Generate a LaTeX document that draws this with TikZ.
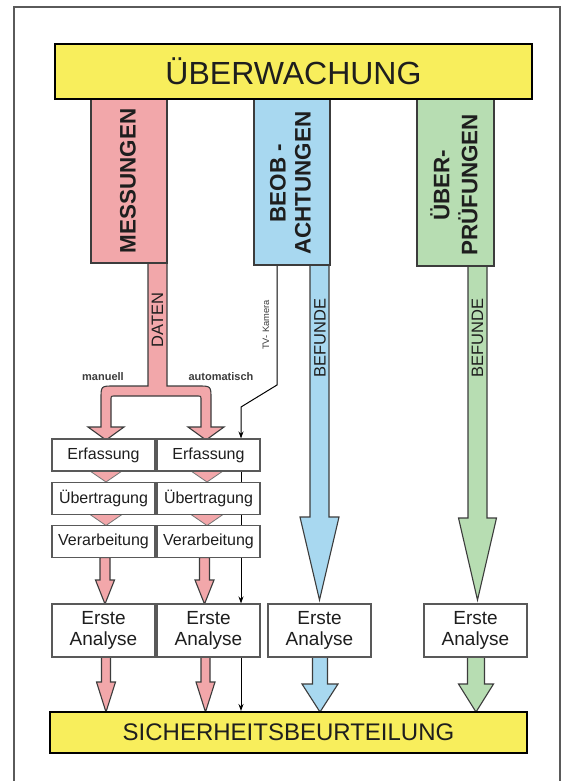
\documentclass[tikz,border=0pt]{standalone}
\usepackage{fontspec}
\setmainfont{Liberation Sans}
\usetikzlibrary{arrows.meta,calc}
\definecolor{pinkc}{RGB}{242,167,170}
\definecolor{bluec}{RGB}{168,216,240}
\definecolor{greenc}{RGB}{183,221,178}
\definecolor{yellowc}{RGB}{248,238,92}
\definecolor{edgec}{RGB}{60,60,60}
\definecolor{framec}{RGB}{90,90,90}
\definecolor{txtc}{RGB}{30,30,30}
\newcommand\BlkArrow[7]{%
  \filldraw[fill=#1, draw=edgec, line width=1.1pt, line join=miter]
  ({#2-#3},#5) -- ({#2-#3},#6) -- ({#2-#4},#6) -- (#2,#7) -- ({#2+#4},#6) -- ({#2+#3},#6) -- ({#2+#3},#5) -- cycle;}
\newcommand\Chevron[2]{%
  \filldraw[fill=pinkc, draw=edgec!70, line width=0.8pt] ({#1-16},#2) -- ({#1+16},#2) -- (#1,{#2+11}) -- cycle;}
\begin{document}
\begin{tikzpicture}[x=1pt,y=-1pt,
  ybar/.style={draw=black, line width=2pt, fill=yellowc, inner sep=0pt, text=txtc},
  colbox/.style={draw=edgec, line width=1.2pt, inner sep=0pt},
  coltext/.style={rotate=90, align=center, inner sep=0pt, text=txtc, font=\bfseries\fontsize{22.4}{25}\selectfont},
  stemtext/.style={rotate=90, inner sep=0pt, text=txtc, font=\fontsize{16.5}{18}\selectfont},
  procbox/.style={draw=edgec!85, line width=1.1pt, fill=white, inner sep=0pt, minimum width=103pt, minimum height=32pt, text=txtc, font=\fontsize{16}{18}\selectfont},
  anabox/.style={draw=edgec!85, line width=1.1pt, fill=white, inner sep=0pt, minimum width=103pt, minimum height=53pt, align=center, text=txtc, font=\fontsize{19}{21}\selectfont},
  smalllab/.style={inner sep=0pt, text=edgec, font=\bfseries\fontsize{11}{13}\selectfont},
  thinarr/.style={draw=black, line width=1pt, -{Stealth[length=7pt,width=5pt]}}
]
\useasboundingbox (0,0) rectangle (570,781);
\fill[white] (0,0) rectangle (570,781);
% frame
\draw[framec, line width=1.5pt] (14,781) -- (14,7) -- (560,7) -- (560,781);

% named helper coordinates
\coordinate (tvA) at (277,0);
\coordinate (tvB) at (241,0);

% process boxes are placed first as nodes (drawn later over lines) -> use positions
\path (103.5,455) node[procbox, draw=none, fill=none] (erfL) {}
      (208.5,455) node[procbox, draw=none, fill=none] (erfR) {}
      (208.5,630.5) node[anabox, draw=none, fill=none] (ersteB) {}
      (288.5,732.5) node[ybar, draw=none, fill=none, minimum width=477pt, minimum height=41pt] (barB) {};
\path (292,182) node[colbox, minimum width=76pt, minimum height=166pt] (beobP) {};

% thin TV-camera line
\draw[thinarr] (beobP.south -| tvA) -- (277,385) -- (241,407) -- (erfR.north -| tvB);
\draw[thinarr] (erfR.south -| tvB) -- (ersteB.north -| tvB);

% pink branching stem
\filldraw[fill=pinkc, draw=edgec, line width=1.1pt, line join=miter]
 (148,263) -- (148,386) -- (114,386) .. controls (101,386) .. (101,399) -- (101,427)
 -- (88,427) -- (106,440) -- (124,427) -- (111,427) -- (111,400) .. controls (111,396) .. (115,396)
 -- (197,396) .. controls (201,396) .. (201,400) -- (201,427) -- (188,427) -- (206,440) -- (224,427)
 -- (211,427) -- (211,399) .. controls (211,386) .. (198,386) -- (167,386) -- (167,263) -- cycle;

% blue and green big arrows
\BlkArrow{bluec}{319.5}{9.5}{19.5}{265}{517}{600}
\BlkArrow{greenc}{477.5}{9.5}{19}{266}{518}{600}

% chevrons between process boxes
\Chevron{106}{471}
\Chevron{207}{471}
\Chevron{106}{514.5}
\Chevron{207}{514.5}

% pink arrows to first analysis
\BlkArrow{pinkc}{105}{5}{9.5}{557.5}{580}{604}
\BlkArrow{pinkc}{204.5}{5}{9.5}{557.5}{580}{604}

% lower arrows to bar
\BlkArrow{pinkc}{106}{4.5}{9.5}{657}{682}{712}
\BlkArrow{pinkc}{205.5}{4.5}{9.5}{657}{682}{712}
\BlkArrow{bluec}{320}{7.5}{18}{657}{684}{712}
\BlkArrow{greenc}{476}{8.5}{17.5}{657}{684}{712}
\draw[thinarr] (ersteB.south -| tvB) -- (barB.north -| tvB);

% column boxes
\node[colbox, fill=pinkc, minimum width=76pt, minimum height=164pt] (mess) at (129,181) {};
\node[colbox, fill=bluec, minimum width=76pt, minimum height=166pt] (beob) at (292,182) {};
\node[colbox, fill=greenc, minimum width=77pt, minimum height=167pt] (uber) at (455.5,182.5) {};
\node[coltext] (messT) at (128,181) {MESSUNGEN};
\node[coltext] (beobT) at (290.5,183) {BEOB -\\ACHTUNGEN};
\node[coltext, font=\bfseries\fontsize{22.4}{28}\selectfont] (uberT) at (454,185) {ÜBER-\\PRÜFUNGEN};

% top bar
\node[ybar, minimum width=477pt, minimum height=55pt, font=\fontsize{32}{36}\selectfont] (top) at (293.5,71.5) {ÜBERWACHUNG};

% stem texts
\node[stemtext] (daten) at (157.5,320) {DATEN};
\node[stemtext] (bef1) at (320,338) {BEFUNDE};
\node[stemtext] (bef2) at (477.5,338) {BEFUNDE};
\node[rotate=90, inner sep=0pt, text=edgec, font=\fontsize{9.3}{11}\selectfont] (tv) at (266,325) {TV- Kamera};
\node[smalllab] (man) at (103,377) {manuell};
\node[smalllab] (auto) at (221,377) {automatisch};

% process boxes
\node[procbox] (erfL2) at (103.5,455) {Erfassung};
\node[procbox] (erfR2) at (208.5,455) {Erfassung};
\node[procbox] (ubL) at (103.5,498.5) {Übertragung};
\node[procbox] (ubR) at (208.5,498.5) {Übertragung};
\node[procbox] (verL) at (103.5,541.5) {Verarbeitung};
\node[procbox] (verR) at (208.5,541.5) {Verarbeitung};

% first analysis boxes
\node[anabox] (ersteA) at (103.5,630.5) {Erste\\Analyse};
\node[anabox] (ersteB2) at (208.5,630.5) {Erste\\Analyse};
\node[anabox] (ersteC) at (319.5,630.5) {Erste\\Analyse};
\node[anabox] (ersteD) at (475.5,630.5) {Erste\\Analyse};

% bottom bar
\node[ybar, minimum width=477pt, minimum height=41pt, font=\fontsize{24}{28}\selectfont] (bar) at (288.5,732.5) {SICHERHEITSBEURTEILUNG};
\end{tikzpicture}
\end{document}
